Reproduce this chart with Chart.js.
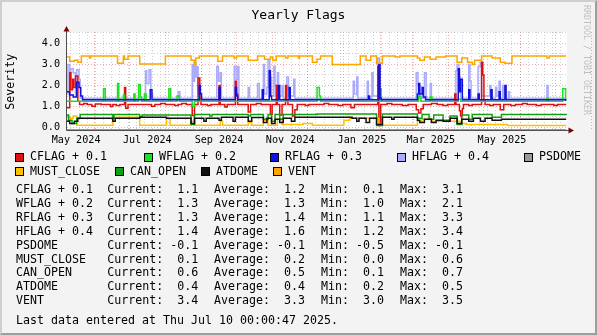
<!DOCTYPE html>
<html lang="en">
<head>
  <meta charset="UTF-8" />
  <title>Yearly Flags</title>
  <script src="https://cdn.jsdelivr.net/npm/chart.js"></script>
  <style>
    body { margin: 0; background: #f3f3f3; }
    #graph { position: relative; width: 597px; height: 335px; background: #f3f3f3; overflow: hidden;
             font-family: "DejaVu Sans Mono", monospace; color: #000; }
    #frame { position: absolute; left: 0; top: 0; width: 597px; height: 335px; box-sizing: border-box; pointer-events: none;
             border-top: 2px solid #cfcfcf; border-left: 2px solid #cfcfcf;
             border-right: 2px solid #9e9e9e; border-bottom: 2px solid #9e9e9e; }
    #chart { position: absolute; left: 0; top: 0; }
    .txt { position: absolute; white-space: pre; line-height: 1; font-size: 11.63px; }
    .box { position: absolute; width: 7px; height: 7px; border: 1px solid #000; }
    #title { position: absolute; left: 0; top: 7.5px; width: 597px; text-align: center; font-size: 13px; line-height: 1; }
    #unit { position: absolute; left: -29.5px; top: 75.7px; width: 80px; text-align: center; font-size: 11.63px; line-height: 1;
            transform: rotate(-90deg); }
    #mark { position: absolute; left: 583px; top: 5px; font-size: 8.3px; line-height: 1; color: #c0c0c0; writing-mode: vertical-rl; }
  </style>
</head>
<body>
  <div id="graph">
    <canvas id="chart" width="597" height="150"></canvas>
    <div id="title">Yearly Flags</div>
    <div id="unit">Severity</div>
    <div id="mark">RRDTOOL / TOBI OETIKER</div>
    <div id="legend"></div>
    <div id="frame"></div>
  </div>

  <script>
    // x values are days since 2024-05-01, y values are the plotted severities
    const cflag = [[7.7,0.95],[10,2.6],[11,1.8],[12.5,2.3],[13.5,1.9],[15,2.45],[17,1.25],[18.5,1.1],[22,1.15],[25,1.1],
      [29,1.02],[32,1.12],[37,1.1],[45,1.0],[47,1.1],[50,1.05],[53,1.1],[57,1.9],[58,0.92],[60,1.1],[80,1.02],[83,1.1],
      [88,1.15],[92,1.1],[100,1.05],[103,1.1],[106,1.15],[110,1.1],[115,0.58],[117,1.1],[120,2.35],[121.5,1.6],[122.5,1.1],
      [128,1.05],[131,1.1],[138,2.0],[139,1.1],[143,0.98],[145,1.1],[152,2.2],[153,1.6],[154,1.1],[163,0.75],[165,1.1],
      [170,1.15],[174,1.1],[182,0.62],[183.5,1.1],[187,2.0],[188,1.1],[190,0.6],[192,1.1],[195,2.0],[196,1.3],[197,1.1],
      [201,0.55],[203,0.85],[205,1.1],[212,1.05],[215,1.1],[228,1.15],[232,1.1],[240,1.05],[244,1.1],[251,0.95],[254,1.1],
      [274,2.9],[275,0.1],[276.5,1.1],[282,1.15],[286,1.1],[295,1.05],[300,1.1],[307,0.85],[309,0.7],[311,0.9],[313,1.1],
      [320,1.15],[325,1.1],[330,1.05],[334,1.1],[340,1.6],[341,1.1],[344,0.8],[345,0.55],[346.5,0.9],[347.5,1.1],
      [352,1.05],[355,1.1],[363,3.1],[364,2.5],[365,1.3],[366,1.1],[370,1.05],[373,1.1],[379,0.85],[382,1.1],[388,1.05],
      [392,1.1],[398,1.15],[402,1.1],[410,1.05],[414,1.1],[425,1.05],[428,1.1],[435.5,1.1]];
    const wflag = [[7.7,1.25],[39,1.85],[40.5,1.25],[51,2.1],[52,1.25],[56,1.55],[57,1.25],[65,1.6],[66,1.25],[69,2.05],
      [70.5,1.45],[71.5,1.25],[74,1.6],[75.5,1.25],[95,1.85],[96.5,1.25],[102,1.5],[104,1.25],[115,1.0],[117,1.25],[120,1.5],
      [121,1.25],[222,1.9],[224,1.5],[225,1.25],[276,1.85],[277,1.25],[309,1.5],[311,1.25],[319,1.45],[320.5,1.25],
      [343,1.35],[345,1.25],[419,1.4],[420,1.25],[432.5,1.85],[435,1.3],[435.5,1.3]];
    const rflag = [[7.7,1.7],[10,1.55],[13,1.45],[16,2.15],[18,1.9],[19.5,1.5],[21,1.32],[79,1.8],[80.5,1.32],[121,2.0],
      [122,1.6],[123,1.32],[138,1.9],[139,1.32],[152,1.9],[153,1.5],[154,1.32],[175,1.8],[176,1.32],[181,2.7],[182,1.5],
      [183,1.32],[189,2.0],[190,1.32],[198,1.9],[199,1.32],[266,1.5],[267,1.32],[275,3.0],[276,1.4],[277,1.32],[308,1.6],
      [309,2.1],[310,1.6],[312,1.9],[313,1.45],[315,1.32],[343,2.8],[344,1.7],[345,2.3],[346.5,1.32],[352,1.8],[353,1.32],
      [360,1.6],[361,1.32],[371,1.8],[372,1.32],[378,1.7],[379,1.32],[383,2.0],[384,1.32],[435,1.3],[435.5,1.3]];
    const hflag = [[7.7,1.6],[8.5,3.0],[10,2.3],[11,2.8],[13,2.6],[15,1.5],[16,2.75],[18,2.3],[19,1.4],[75,2.7],[76,2.1],
      [78,2.75],[79.5,1.6],[81,1.4],[103,1.7],[104.5,1.4],[115,3.0],[116,2.2],[117,3.1],[118,2.4],[119,2.9],[120,1.8],
      [121,1.4],[136,2.9],[137.5,2.2],[139,2.6],[140,1.4],[151,2.9],[152.5,2.3],[154,2.9],[155,1.4],[163,1.9],[164,1.4],
      [171,2.1],[172.5,1.4],[176,3.0],[177,1.6],[179,1.9],[180,3.2],[181.5,2.4],[183,1.5],[185,2.9],[186,2.0],[188,2.6],
      [189,1.5],[192,2.0],[193,1.4],[196,2.4],[197.5,1.5],[202,2.3],[203,1.4],[253,2.2],[254,1.6],[256,2.4],[257,1.4],
      [265,2.2],[266,1.4],[269,2.6],[270,1.5],[274,3.3],[275.5,1.4],[307,2.6],[308.5,2.0],[310,1.4],[314,2.6],[315.5,1.4],
      [319,2.1],[320,1.4],[341,2.7],[342,3.0],[343.5,2.4],[345,1.4],[352,3.0],[353,2.2],[354,1.4],[360,2.9],[362,3.1],
      [363,1.5],[370,2.0],[371,1.4],[375,1.9],[376,1.5],[378,2.2],[379,1.4],[381,2.0],[382,1.4],[386,1.7],[387,1.4],
      [419,2.0],[420,1.4],[435.5,1.4]];
    const psdome = [[7.7,-0.1],[118,-0.5],[120,-0.1],[321,-0.5],[322,-0.1],[435.5,-0.1]];
    const mustClose = [[7.7,0.55],[10,0.45],[13,0.55],[16,0.12],[47,0.5],[70,0.12],[93,0.45],[96,0.12],[114,0.3],[117,0.12],
      [139,0.3],[141,0.12],[163,0.25],[166,0.12],[176,0.35],[180,0.12],[188,0.4],[192,0.15],[210,0.2],[218,0.12],
      [245,0.35],[250,0.45],[275,0.15],[278,0.12],[308,0.3],[312,0.4],[320,0.3],[345,0.2],[350,0.15],[385,0.1],[435.5,0.1]];
    const canOpen = [[7.7,0.6],[9,0.35],[12,0.2],[16,0.45],[19,0.62],[47,0.45],[48,0.62],[70,0.5],[72,0.6],[114,0.15],
      [117,0.62],[130,0.55],[132,0.62],[163,0.55],[165,0.62],[176,0.4],[180,0.62],[183,0.3],[186,0.62],[190,0.4],
      [193,0.62],[222,0.65],[273,0.1],[278,0.65],[308,0.45],[312,0.62],[318,0.4],[322,0.6],[330,0.35],[336,0.55],
      [342,0.15],[346,0.6],[352,0.4],[355,0.62],[372,0.5],[380,0.62],[435.5,0.6]];
    const atdome = [[7.7,0.3],[10,0.2],[14,0.3],[17,0.45],[47,0.3],[49,0.45],[70,0.5],[93,0.45],[114,0.2],[117,0.45],
      [125,0.3],[127,0.45],[138,0.35],[140,0.5],[150,0.3],[152,0.5],[163,0.3],[166,0.48],[176,0.25],[179,0.45],
      [183,0.2],[186,0.4],[190,0.25],[193,0.45],[200,0.3],[203,0.5],[252,0.45],[256,0.3],[258,0.45],[264,0.25],
      [267,0.45],[273,0.15],[278,0.5],[286,0.4],[288,0.5],[308,0.35],[310,0.25],[314,0.4],[320,0.25],[324,0.35],
      [330,0.3],[336,0.45],[342,0.2],[346,0.4],[352,0.3],[356,0.45],[362,0.3],[366,0.45],[372,0.35],[380,0.4],[435.5,0.4]];
    const vent = [[7.7,3.35],[10,3.15],[14,3.2],[17,3.1],[20,3.4],[27,3.3],[28,3.4],[51,3.05],[56,3.4],[57,3.25],[60,3.4],
      [70,3.02],[92,3.4],[114,3.2],[117,3.0],[118,3.3],[121,3.4],[137,3.15],[141,3.4],[151,3.3],[153,3.4],[163,3.2],
      [171,3.4],[177,3.25],[182,3.35],[184,3.2],[187,3.4],[195,3.3],[197,3.4],[206,3.3],[207,3.4],[218,3.1],[222,3.25],
      [225,3.4],[235,3.0],[259,3.4],[264,3.2],[268,3.4],[273,3.05],[278,3.4],[289,3.35],[293,3.4],[308,3.3],[310,3.2],
      [314,3.35],[319,3.25],[324,3.35],[332,3.4],[342,3.1],[346,3.3],[351,3.1],[355,3.0],[357,3.2],[363,3.4],[372,3.3],
      [379,3.1],[383,3.05],[389,3.4],[419,3.3],[421,3.4],[435.5,3.4]];

    const names = ['CFLAG + 0.1', 'WFLAG + 0.2', 'RFLAG + 0.3', 'HFLAG + 0.4', 'PSDOME', 'MUST_CLOSE', 'CAN_OPEN', 'ATDOME', 'VENT'];
    const colors = ['#dd1111', '#22dd22', '#1111dd', '#aaaaff', '#999999', '#ffc000', '#11a011', '#111111', '#ffa500'];
    const current = [1.1, 1.3, 1.3, 1.4, -0.1, 0.1, 0.6, 0.4, 3.4];
    const average = [1.2, 1.3, 1.4, 1.6, -0.1, 0.2, 0.5, 0.4, 3.3];
    const minimum = [0.1, 1.0, 1.1, 1.2, -0.5, 0.0, 0.1, 0.2, 3.0];
    const maximum = [3.1, 2.1, 3.3, 3.4, -0.1, 0.6, 0.7, 0.5, 3.5];
    const lastUpdate = 'Last data entered at Thu Jul 10 00:00:47 2025.';

    const yTicks = [0, 1, 2, 3, 4];
    const yMinorTicks = [0.5, 1.5, 2.5, 3.5, 4.5];
    const xTickLabels = ['May 2024', 'Jul 2024', 'Sep 2024', 'Nov 2024', 'Jan 2025', 'Mar 2025', 'May 2025'];
    const xTickMonths = [[2024, 5], [2024, 7], [2024, 9], [2024, 11], [2025, 1], [2025, 3], [2025, 5]];

    const DAY0 = Date.UTC(2024, 4, 1);
    const dayOf = (y, m, d) => (Date.UTC(y, m - 1, d) - DAY0) / 864e5;
    const xStart = 7.7, xEnd = 436.2;
    const yMin = -0.109, yMax = 4.536;

    // month boundaries (red grid) and sundays (grey grid)
    const monthTicks = [];
    for (let i = 0; i < 15; i++) monthTicks.push(dayOf(2024, 6 + i, 1));
    const weekTicks = [];
    for (let d = dayOf(2024, 5, 12); d < xEnd; d += 7) weekTicks.push(d);
    const labelTicks = xTickMonths.map(([y, m]) => (dayOf(y, m, 1) + dayOf(y, m + 1, 1)) / 2);

    const series = [cflag, wflag, rflag, hflag, psdome, mustClose, canOpen, atdome, vent];
    const zOrder = [8, 7, 6, 9, 5, 4, 3, 2, 1];

    const minorGrid = 'rgba(150,150,150,0.45)';
    const majorGrid = 'rgba(230,90,90,0.5)';
    const axisFont = { family: 'DejaVu Sans Mono', size: 10.15 };
    const setTicks = list => scale => { scale.ticks = list.map(v => ({ value: v })); };

    const plotBackground = {
      id: 'plotBackground',
      beforeDraw(chart) {
        const { ctx, chartArea: a } = chart;
        ctx.save();
        ctx.fillStyle = '#ffffff';
        ctx.fillRect(a.left, a.top, a.right - a.left, a.bottom - a.top);
        ctx.restore();
      }
    };

    const axisArrows = {
      id: 'axisArrows',
      afterDatasetsDraw(chart) {
        const { ctx, chartArea: a } = chart;
        const x0 = a.left - 0.5, y0 = a.bottom + 0.5;
        ctx.save();
        ctx.strokeStyle = '#505050';
        ctx.lineWidth = 1;
        ctx.beginPath();
        ctx.moveTo(x0, y0); ctx.lineTo(a.right + 2, y0);
        ctx.moveTo(x0, y0); ctx.lineTo(x0, a.top - 1);
        ctx.stroke();
        ctx.fillStyle = '#800000';
        ctx.beginPath();
        ctx.moveTo(a.right + 1.5, y0 - 3); ctx.lineTo(a.right + 7, y0); ctx.lineTo(a.right + 1.5, y0 + 3);
        ctx.closePath(); ctx.fill();
        ctx.beginPath();
        ctx.moveTo(x0 - 3, a.top - 0.5); ctx.lineTo(x0, a.top - 6); ctx.lineTo(x0 + 3, a.top - 0.5);
        ctx.closePath(); ctx.fill();
        ctx.restore();
      }
    };

    new Chart(document.getElementById('chart'), {
      type: 'line',
      data: {
        datasets: series.map((pts, i) => ({
          label: names[i],
          data: pts.map(([x, y]) => ({ x, y })),
          borderColor: colors[i],
          borderWidth: 1.5,
          pointRadius: 0,
          stepped: true,
          fill: false,
          order: zOrder[i]
        }))
      },
      options: {
        responsive: false,
        animation: false,
        devicePixelRatio: 1,
        events: [],
        parsing: false,
        layout: { padding: { left: 0, top: 32, right: 30, bottom: 0 } },
        plugins: { legend: { display: false }, tooltip: { enabled: false } },
        scales: {
          x: {
            type: 'linear', position: 'bottom', min: xStart, max: xEnd,
            afterBuildTicks: setTicks(weekTicks),
            afterFit: s => { s.height = 0; },
            ticks: { display: false },
            grid: { color: minorGrid, drawTicks: false },
            border: { display: false, dash: [1, 2] }
          },
          xMonth: {
            type: 'linear', position: 'bottom', min: xStart, max: xEnd,
            afterBuildTicks: setTicks(monthTicks),
            afterFit: s => { s.height = 0; },
            ticks: { display: false },
            grid: { color: majorGrid, drawTicks: false },
            border: { display: false, dash: [1, 2] }
          },
          xLabel: {
            type: 'linear', position: 'bottom', min: xStart, max: xEnd,
            afterBuildTicks: setTicks(labelTicks),
            afterFit: s => { s.height = 20; },
            ticks: {
              autoSkip: false, maxRotation: 0, minRotation: 0, padding: 4,
              color: '#000', font: axisFont,
              callback: (v, i) => xTickLabels[i]
            },
            grid: { display: false, drawTicks: false },
            border: { display: false }
          },
          y: {
            type: 'linear', position: 'left', min: yMin, max: yMax,
            afterBuildTicks: setTicks(yTicks),
            afterFit: s => { s.width = 67; },
            ticks: { padding: 7, color: '#000', font: axisFont, callback: v => v.toFixed(1) },
            grid: { color: majorGrid, drawTicks: false },
            border: { display: false, dash: [1, 2] }
          },
          yMinor: {
            type: 'linear', position: 'left', min: yMin, max: yMax,
            afterBuildTicks: setTicks(yMinorTicks),
            afterFit: s => { s.width = 0; },
            ticks: { display: false },
            grid: { color: minorGrid, drawTicks: false },
            border: { display: false, dash: [1, 2] }
          }
        }
      },
      plugins: [plotBackground, axisArrows]
    });

    // legend boxes and the statistics block
    const legend = document.getElementById('legend');
    const legendSlots = [[15, 151], [144, 151], [270, 151], [397, 151], [524, 151],
                         [15, 165.5], [115, 165.5], [201, 165.5], [273, 165.5]];
    const add = (cls, text, left, top, style) => {
      const el = document.createElement('div');
      el.className = cls;
      el.textContent = text;
      el.style.left = left + 'px';
      el.style.top = top + 'px';
      if (style) Object.assign(el.style, style);
      legend.appendChild(el);
    };
    const fmt = v => v.toFixed(1).padStart(5, ' ');

    names.forEach((name, i) => {
      const [bx, by] = legendSlots[i];
      add('box', '', bx, by + 1.5, { background: colors[i] });
      add('txt', name, bx + 15, by);

      const top = 184 + i * 13.9;
      add('txt', name, 16, top);
      add('txt', 'Current:' + fmt(current[i]), 107.3, top);
      add('txt', 'Average:' + fmt(average[i]), 214, top);
      add('txt', 'Min:' + fmt(minimum[i]), 321, top);
      add('txt', 'Max:' + fmt(maximum[i]), 400, top);
    });
    add('txt', lastUpdate, 16, 314.6);
  </script>
</body>
</html>
